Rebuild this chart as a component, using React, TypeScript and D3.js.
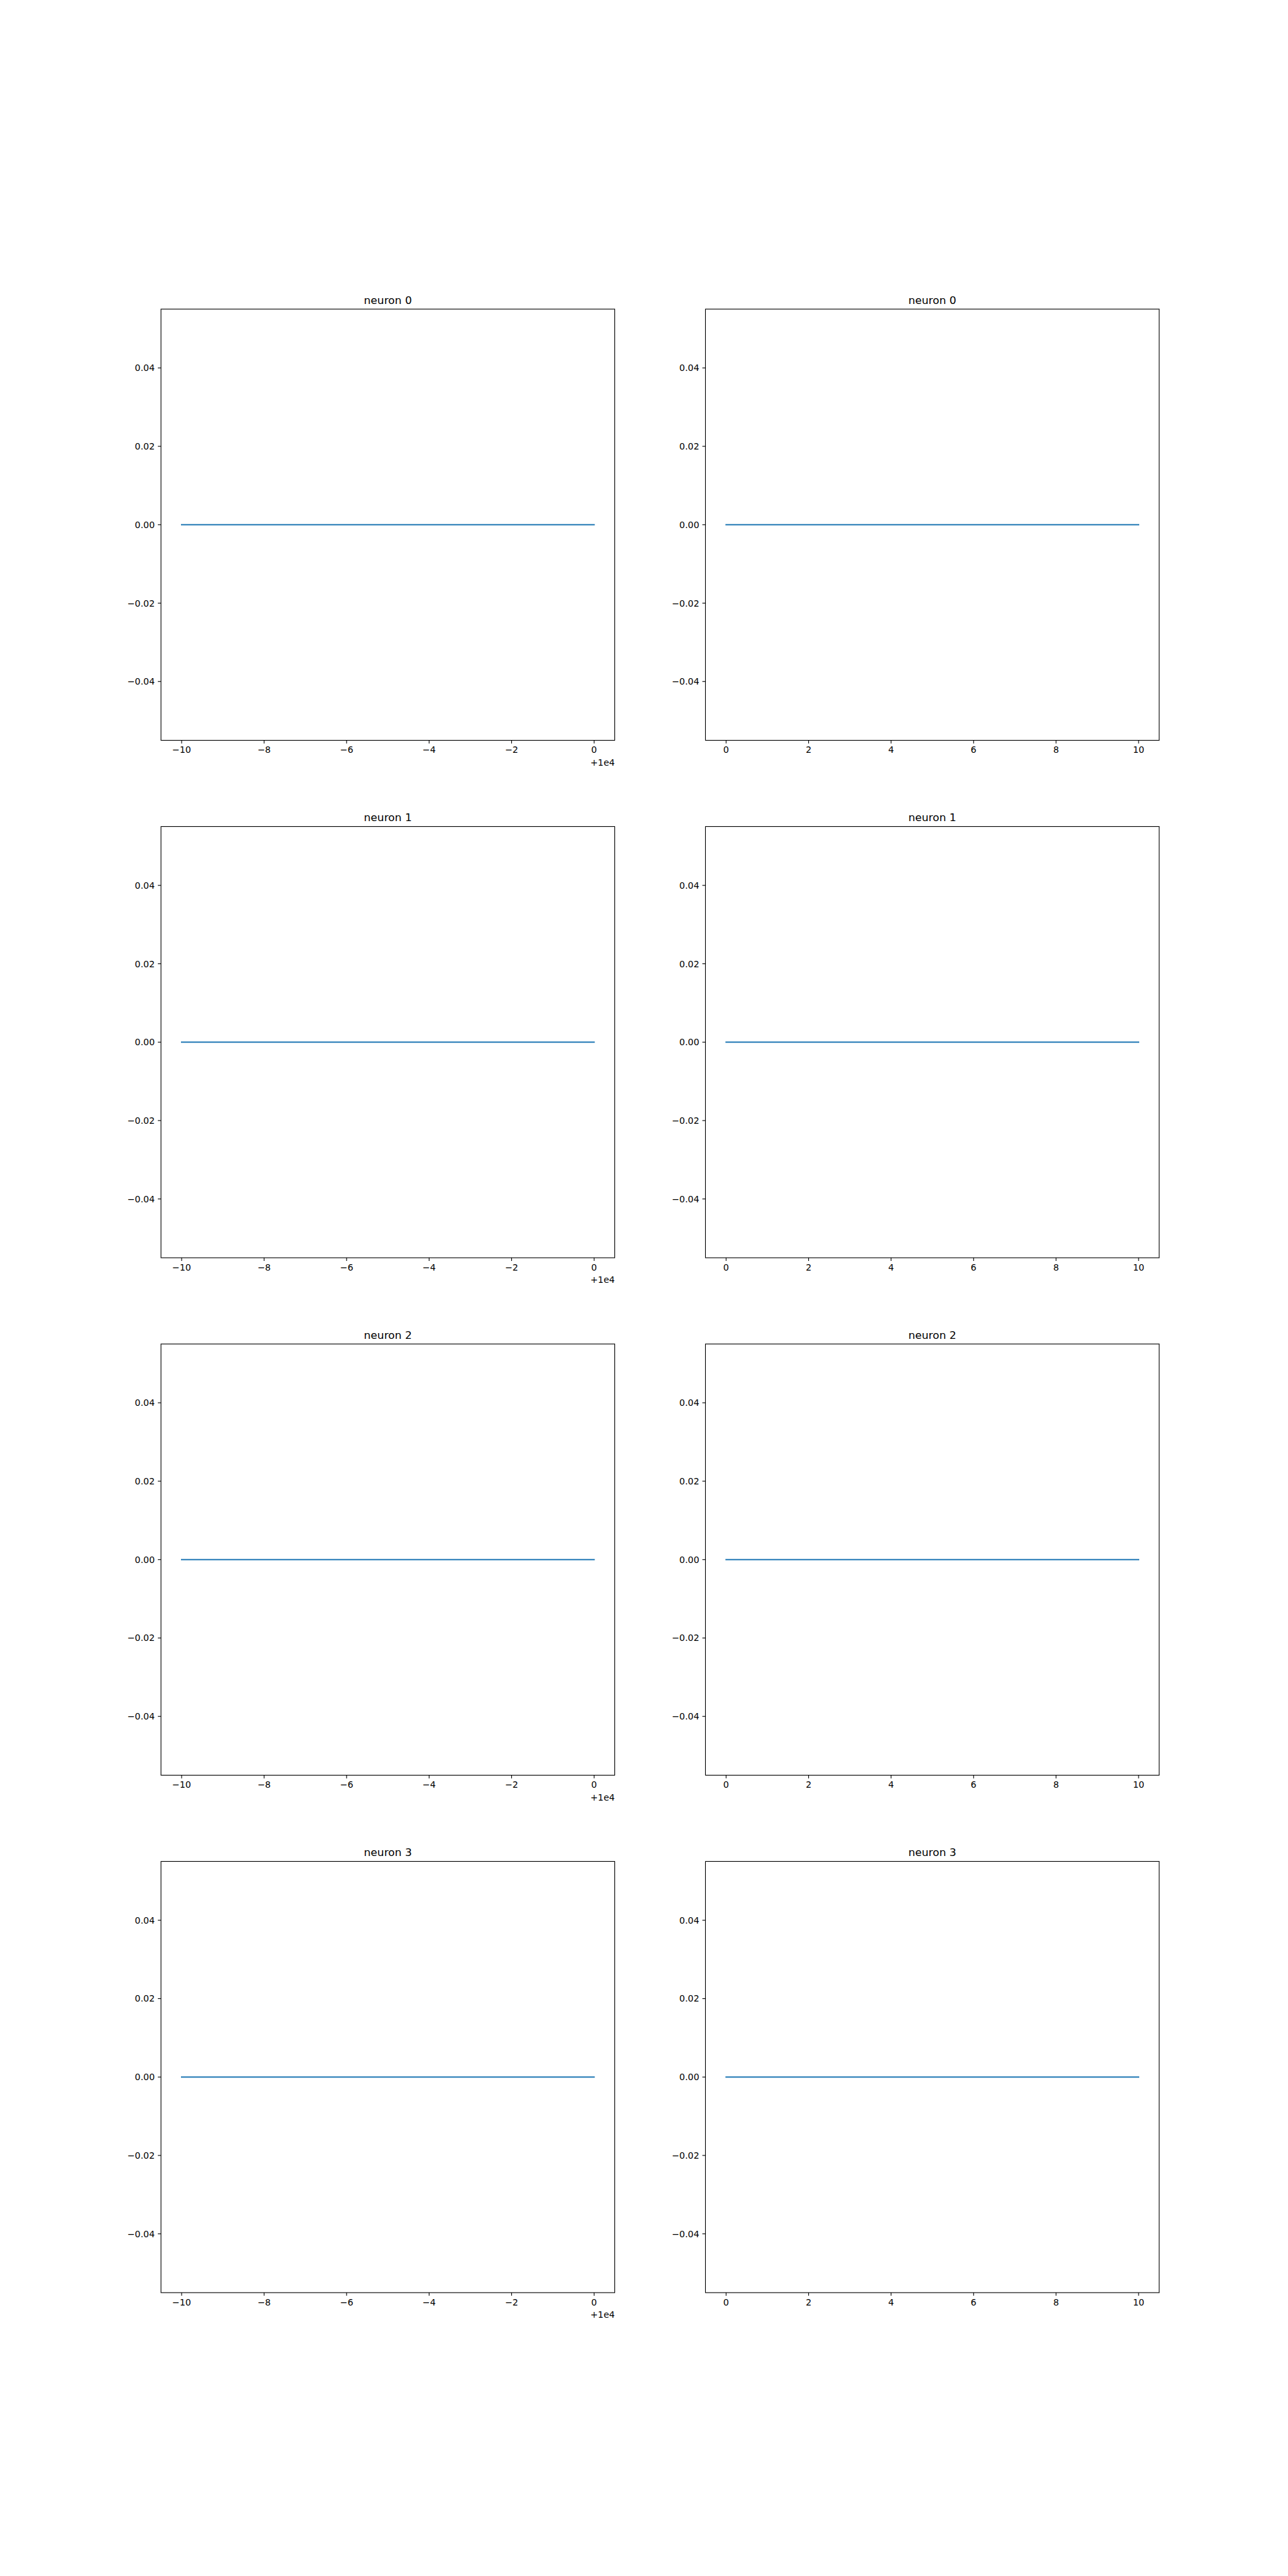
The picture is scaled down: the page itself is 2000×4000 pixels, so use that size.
import * as d3 from "d3"

// recorded steps, absolute (left column) and relative (right column)
const stepsAbs = [9990, 9991, 9992, 9993, 9994, 9995, 9996, 9997, 9998, 9999, 10000]
const stepsRel = [0, 1, 2, 3, 4, 5, 6, 7, 8, 9, 10]
const neurons = ["neuron 0", "neuron 1", "neuron 2", "neuron 3"]
// activation of each neuron over the steps (all flat at zero)
const neuron0 = [0, 0, 0, 0, 0, 0, 0, 0, 0, 0, 0]
const neuron1 = [0, 0, 0, 0, 0, 0, 0, 0, 0, 0, 0]
const neuron2 = [0, 0, 0, 0, 0, 0, 0, 0, 0, 0, 0]
const neuron3 = [0, 0, 0, 0, 0, 0, 0, 0, 0, 0, 0]
const series = [neuron0, neuron1, neuron2, neuron3]

const xTicksAbs = [-10, -8, -6, -4, -2, 0]
const xTicksRel = [0, 2, 4, 6, 8, 10]
const yTicks = [-0.04, -0.02, 0.0, 0.02, 0.04]
const xOffset = 10000

const W = 2000
const H = 4000
const FONT = "DejaVu Sans"
const TICK = 4.86
const PAD = 4.86
const LINE_COLOR = "#1f77b4"

// matplotlib default subplot geometry
const left = 0.125 * W
const right = 0.9 * W
const top = 0.12 * H
const bottom = 0.89 * H
const axW = (right - left) / 2.2
const axH = (bottom - top) / 4.6

const fmtMinus = (s: string) => s.replace("-", "\u2212")

function Panel({ row, col }: { row: number; col: number }) {
  const x0 = left + col * axW * 1.2
  const y0 = top + row * axH * 1.2
  const abs = col === 0
  const xs = abs ? stepsAbs.map((d) => d - xOffset) : stepsRel
  const ys = series[row]

  const xScale = d3
    .scaleLinear()
    .domain(abs ? [-10.5, 0.5] : [-0.5, 10.5])
    .range([0, axW])
  const yScale = d3.scaleLinear().domain([-0.055, 0.055]).range([axH, 0])

  const line = d3
    .line<number>()
    .x((_, i) => xScale(xs[i]))
    .y((d) => yScale(d))

  const xTicks = abs ? xTicksAbs : xTicksRel

  return (
    <g transform={`translate(${x0},${y0})`}>
      <path d={line(ys) || ""} fill="none" stroke={LINE_COLOR} strokeWidth={2.08} strokeLinecap="square" />

      {/* frame */}
      <rect x={0} y={0} width={axW} height={axH} fill="none" stroke="#000" strokeWidth={1.11} />

      {/* x ticks */}
      {xTicks.map((t) => (
        <g key={`x${t}`} transform={`translate(${xScale(t)},${axH})`}>
          <line y1={0} y2={TICK} stroke="#000" strokeWidth={1.11} />
          <text y={TICK + PAD + 10.2} textAnchor="middle" fontSize={13.9} fontFamily={FONT} fill="#000">
            {fmtMinus(String(t))}
          </text>
        </g>
      ))}

      {/* y ticks */}
      {yTicks.map((t) => (
        <g key={`y${t}`} transform={`translate(0,${yScale(t)})`}>
          <line x1={0} x2={-TICK} stroke="#000" strokeWidth={1.11} />
          <text x={-TICK - PAD} y={5} textAnchor="end" fontSize={13.9} fontFamily={FONT} fill="#000">
            {fmtMinus(d3.format(".2f")(t))}
          </text>
        </g>
      ))}

      {abs && (
        <text x={axW} y={axH + 39} textAnchor="end" fontSize={13.9} fontFamily={FONT} fill="#000">
          +1e4
        </text>
      )}

      <text x={axW / 2} y={-8.33} textAnchor="middle" fontSize={16.67} fontFamily={FONT} fill="#000">
        {neurons[row]}
      </text>
    </g>
  )
}

export default function App() {
  return (
    <svg
      width={W}
      height={H}
      style={{ position: "absolute", left: 0, top: 0, background: "#fff" }}
    >
      <rect width={W} height={H} fill="#fff" />
      {neurons.map((_, r) => (
        <g key={r}>
          <Panel row={r} col={0} />
          <Panel row={r} col={1} />
        </g>
      ))}
    </svg>
  )
}
